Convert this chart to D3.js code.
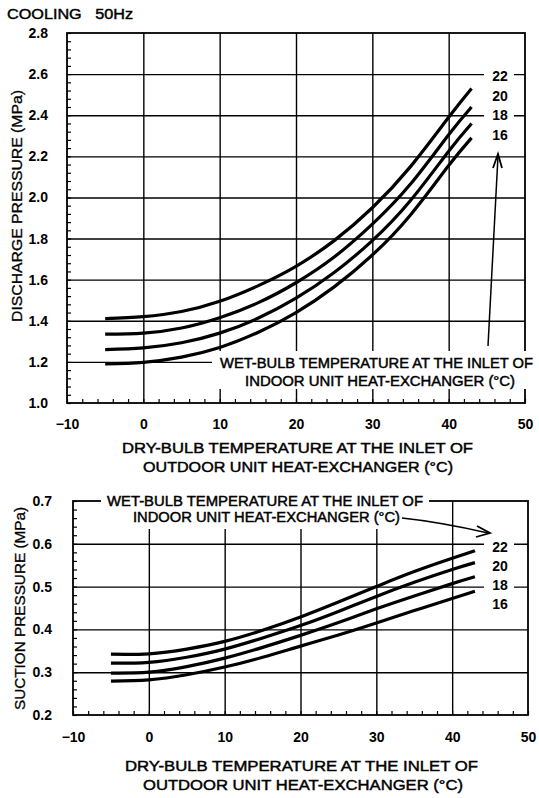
<!DOCTYPE html>
<html><head><meta charset="utf-8">
<script src="https://cdn.jsdelivr.net/npm/d3@7"></script>
<style>
html,body{margin:0;padding:0;background:#fff;}
svg{display:block;font-family:"Liberation Sans",Arial,sans-serif;}
</style></head>
<body>
<svg id="c" width="539" height="798"></svg>
<script>
// ---------- data ----------
const dryBulb = [-5, 0, 5, 10, 15, 20, 25, 30, 35, 40, 43];
const wetBulbLabels = ["22", "20", "18", "16"];
const discharge22 = [1.41, 1.42, 1.445, 1.495, 1.57, 1.665, 1.79, 1.95, 2.15, 2.39, 2.53];
const discharge20 = [1.335, 1.34, 1.365, 1.415, 1.487, 1.585, 1.71, 1.87, 2.065, 2.305, 2.44];
const discharge18 = [1.26, 1.268, 1.293, 1.34, 1.412, 1.51, 1.635, 1.79, 1.985, 2.225, 2.36];
const discharge16 = [1.19, 1.198, 1.223, 1.27, 1.343, 1.44, 1.565, 1.72, 1.915, 2.155, 2.29];
const suction22 = [0.342, 0.343, 0.354, 0.372, 0.398, 0.429, 0.464, 0.500, 0.535, 0.566, 0.584];
const suction20 = [0.321, 0.323, 0.335, 0.354, 0.380, 0.409, 0.442, 0.477, 0.510, 0.540, 0.556];
const suction18 = [0.298, 0.300, 0.313, 0.333, 0.358, 0.386, 0.416, 0.448, 0.478, 0.507, 0.523];
const suction16 = [0.279, 0.282, 0.294, 0.312, 0.335, 0.361, 0.387, 0.415, 0.444, 0.472, 0.489];
const xTicks = [-10, 0, 10, 20, 30, 40, 50];
const dischargeTicks = [1.0, 1.2, 1.4, 1.6, 1.8, 2.0, 2.2, 2.4, 2.6, 2.8];
const suctionTicks = [0.2, 0.3, 0.4, 0.5, 0.6, 0.7];

const svg = d3.select("#c");
const FONT = '"Liberation Sans", Arial, sans-serif';

function heavy(sel, w) { return sel.attr("stroke", "#000").attr("stroke-width", w == null ? 0.45 : w); }

heavy(svg.append("text").attr("x", 7).attr("y", 19).attr("font-size", 15)
  .attr("textLength", 126).attr("lengthAdjust", "spacingAndGlyphs")
  .text("COOLING\u00A0\u00A0\u00A050Hz"));

function panel(o) {
  const x = d3.scaleLinear().domain([-10, 50]).range([o.left, o.right]);
  const y = d3.scaleLinear().domain(o.yDomain).range([o.bottom, o.top]);
  const g = svg.append("g");
  const W = o.right - o.left, H = o.bottom - o.top;

  // gridlines
  g.append("g").attr("transform", `translate(0,${o.bottom})`)
    .call(d3.axisBottom(x).tickValues(xTicks.slice(1, -1)).tickSize(-H).tickFormat(""))
    .call(s => s.select(".domain").remove())
    .selectAll("line").attr("stroke", "#000").attr("stroke-width", 1.4);
  g.append("g").attr("transform", `translate(${o.left},0)`)
    .call(d3.axisLeft(y).tickValues(o.yTicks.slice(1, -1)).tickSize(-W).tickFormat(""))
    .call(s => s.select(".domain").remove())
    .selectAll("line").attr("stroke", "#000").attr("stroke-width", 1.4);

  // minor ticks (inward)
  g.append("g").attr("transform", `translate(0,${o.bottom})`)
    .call(d3.axisBottom(x).tickValues(d3.range(-10, 50.01, 2)).tickSize(-4).tickFormat(""))
    .call(s => s.select(".domain").remove())
    .selectAll("line").attr("stroke", "#000").attr("stroke-width", 1.2);
  g.append("g").attr("transform", `translate(${o.left},0)`)
    .call(d3.axisLeft(y).tickValues(d3.range(o.yDomain[0], o.yDomain[1] + 1e-9, o.minor)).tickSize(-4).tickFormat(""))
    .call(s => s.select(".domain").remove())
    .selectAll("line").attr("stroke", "#000").attr("stroke-width", 1.2);

  // frame
  g.append("rect").attr("x", o.left).attr("y", o.top).attr("width", W).attr("height", H)
    .attr("fill", "none").attr("stroke", "#000").attr("stroke-width", 1.8);

  // tick labels
  g.append("g").attr("transform", `translate(0,${o.bottom})`)
    .call(d3.axisBottom(x).tickValues(xTicks).tickSize(0).tickPadding(o.xPad).tickFormat(d3.format("d")))
    .call(s => s.select(".domain").remove())
    .selectAll("text").attr("font-size", 14).attr("font-weight", "bold").attr("font-family", FONT).attr("fill", "#000");
  g.append("g").attr("transform", `translate(${o.left},0)`)
    .call(d3.axisLeft(y).tickValues(o.yTicks).tickSize(0).tickPadding(o.yPad).tickFormat(d3.format(".1f")))
    .call(s => s.select(".domain").remove())
    .selectAll("text").attr("font-size", 14).attr("font-weight", "bold").attr("font-family", FONT).attr("fill", "#000");

  // masks
  o.masks.forEach(m => g.append("rect").attr("x", m[0]).attr("y", m[1]).attr("width", m[2]).attr("height", m[3]).attr("fill", "#fff"));

  // curves
  const line = d3.line().x((d, i) => x(dryBulb[i])).y(d => y(d)).curve(d3.curveNatural);
  o.series.forEach(s => g.append("path").attr("d", line(s)).attr("fill", "none")
    .attr("stroke", "#000").attr("stroke-width", 3.2));

  // series labels
  wetBulbLabels.forEach((t, i) => g.append("text").attr("x", 500).attr("y", o.labY + i * o.labDy)
    .attr("text-anchor", "middle").attr("font-size", 14).attr("font-weight", "bold").text(t));

  // axis titles
  heavy(g.append("text").attr("x", o.xt1[0]).attr("y", o.xt1[1]).attr("font-size", 15)
    .attr("textLength", o.xt1[2]).attr("lengthAdjust", "spacingAndGlyphs")
    .text("DRY-BULB TEMPERATURE AT THE INLET OF"));
  heavy(g.append("text").attr("x", o.xt2[0]).attr("y", o.xt2[1]).attr("font-size", 15)
    .attr("textLength", o.xt2[2]).attr("lengthAdjust", "spacingAndGlyphs")
    .text("OUTDOOR UNIT HEAT-EXCHANGER (°C)"));
  heavy(g.append("text").attr("transform", `translate(${o.yt[0]},${o.yt[1]}) rotate(-90)`)
    .attr("font-size", 14).attr("textLength", o.yt[2]).attr("lengthAdjust", "spacingAndGlyphs")
    .text(o.yTitle), 0.3);

  // inner label
  heavy(g.append("text").attr("x", o.in1[0]).attr("y", o.in1[1]).attr("font-size", 14)
    .attr("textLength", o.in1[2]).attr("lengthAdjust", "spacingAndGlyphs")
    .text("WET-BULB TEMPERATURE AT THE INLET OF"));
  heavy(g.append("text").attr("x", o.in2[0]).attr("y", o.in2[1]).attr("font-size", 14)
    .attr("textLength", o.in2[2]).attr("lengthAdjust", "spacingAndGlyphs")
    .text("INDOOR UNIT HEAT-EXCHANGER (°C)"));

  // arrow
  g.append("path").attr("d", o.arrow).attr("fill", "none").attr("stroke", "#000").attr("stroke-width", 1.5);
  g.append("path").attr("d", o.head).attr("fill", "none").attr("stroke", "#000").attr("stroke-width", 1.8);
  return {x, y};
}

panel({
  left: 67, right: 525, top: 33, bottom: 403,
  yDomain: [1.0, 2.8], yTicks: dischargeTicks, minor: 0.04,
  xPad: 16, yPad: 19,
  series: [discharge22, discharge20, discharge18, discharge16],
  masks: [[212, 351, 330, 38], [484, 66, 30, 78]],
  labY: 81, labDy: 19.7,
  xt1: [122, 453, 351], xt2: [143, 472, 310],
  yt: [22, 322, 232], yTitle: "DISCHARGE PRESSURE (MPa)",
  in1: [220, 368, 313], in2: [245, 386, 270],
  arrow: "M488,346 L498,156",
  head: "M493,168 L498,154 L502,168"
});

panel({
  left: 73, right: 528, top: 501, bottom: 715,
  yDomain: [0.2, 0.7], yTicks: suctionTicks, minor: 0.02,
  xPad: 17, yPad: 21,
  series: [suction22, suction20, suction18, suction16],
  masks: [[101, 490, 328, 20], [124, 509, 288, 20], [484, 535, 30, 76]],
  labY: 552, labDy: 19,
  xt1: [125, 771, 353], xt2: [143, 790, 320],
  yt: [25, 710, 203], yTitle: "SUCTION PRESSURE (MPa)",
  in1: [107, 506, 316], in2: [133, 522, 267],
  arrow: "M402,518 Q440,522 488,533",
  head: "M477,526 L490,533 L476,537"
});
</script>
</body></html>
